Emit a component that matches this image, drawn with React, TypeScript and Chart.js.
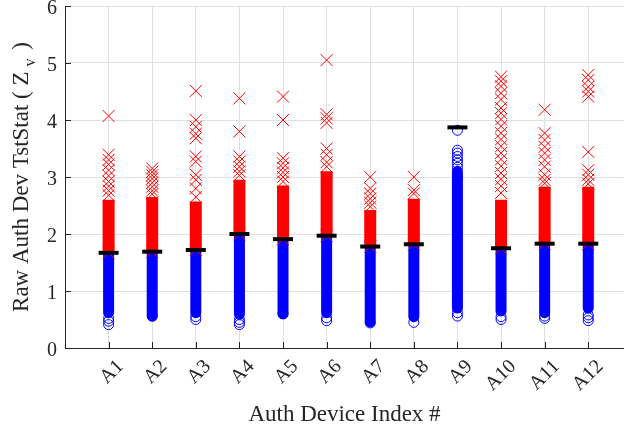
import React, { useEffect, useRef } from 'react';
import { Chart, registerables } from 'chart.js';

Chart.register(...registerables);

// ---- data ----
const categories = ['A1', 'A2', 'A3', 'A4', 'A5', 'A6', 'A7', 'A8', 'A9', 'A10', 'A11', 'A12'];

// threshold (black bar) per device
const thresholds = [1.67, 1.69, 1.72, 2.0, 1.91, 1.97, 1.78, 1.82, 3.87, 1.75, 1.83, 1.83];

// dense blue column (circles packed solid): low and high values
const blueDenseLow = [0.62, 0.56, 0.62, 0.59, 0.6, 0.62, 0.46, 0.55, 0.7, 0.65, 0.62, 0.7];
const blueDenseHigh = [1.67, 1.69, 1.72, 2.0, 1.91, 1.97, 1.78, 1.82, 3.1, 1.75, 1.83, 1.83];

// individually visible blue circles
const blueRings: number[][] = [
  [0.52, 0.47, 0.41],
  [0.56],
  [0.55, 0.5],
  [0.5, 0.45, 0.41],
  [0.6],
  [0.53, 0.48],
  [0.44],
  [0.45],
  [0.62, 0.56, 3.17, 3.24, 3.3, 3.36, 3.42, 3.47, 3.82],
  [0.55, 0.5],
  [0.56, 0.52],
  [0.58, 0.53, 0.48],
];

// dense red column (crosses packed solid): top value (null = none)
const redDenseTop: (number | null)[] = [2.6, 2.65, 2.57, 2.95, 2.85, 3.1, 2.42, 2.62, null, 2.6, 2.83, 2.83];

// individually visible red crosses
const redCrosses: number[][] = [
  [4.07, 3.39, 3.3, 3.22, 3.12, 3.02, 2.92, 2.84, 2.76, 2.68],
  [3.15, 3.09, 3.03, 2.97, 2.9, 2.83, 2.76, 2.7],
  [4.51, 4.0, 3.88, 3.76, 3.68, 3.36, 3.27, 3.04, 2.95, 2.8, 2.65],
  [4.38, 3.8, 3.36, 3.27, 3.18, 3.1, 3.03],
  [4.41, 4.0, 3.33, 3.24, 3.16, 3.08, 3.0, 2.92],
  [5.05, 4.1, 4.03, 3.95, 3.5, 3.39, 3.26, 3.18],
  [3.0, 2.8, 2.71, 2.62, 2.55, 2.48],
  [3.0, 2.77, 2.71],
  [],
  [4.76, 4.68, 4.59, 4.47, 4.36, 4.21, 4.12, 4.01, 3.89, 3.77, 3.66, 3.54, 3.42, 3.31, 3.19, 3.07, 2.96, 2.84, 2.72],
  [4.18, 3.77, 3.65, 3.53, 3.42, 3.3, 3.18, 3.04, 2.95, 2.89],
  [4.79, 4.7, 4.58, 4.5, 4.41, 3.44, 3.12, 3.04, 2.95, 2.88],
];

const yTicks = [0, 1, 2, 3, 4, 5, 6];

const FONT = "'Liberation Serif', 'Times New Roman', serif";
const TEXT = '#262626';
const GRID = '#e0e0e0';
const BLUE = '#0000ff';
const RED = '#ff0000';

// plot-area frame inside the canvas
const AREA_TOP = 6;
const AREA_LEFT = 65;
const AXIS_HEIGHT = 86;

type P = { x: number; y: number | null };

function columnSegments(lows: (number | null)[], highs: (number | null)[]): P[] {
  const out: P[] = [];
  lows.forEach((lo, i) => {
    const hi = highs[i];
    if (lo == null || hi == null) return;
    out.push({ x: i + 1, y: lo }, { x: i + 1, y: hi }, { x: i + 1, y: null });
  });
  return out;
}

function points(lists: number[][]): P[] {
  const out: P[] = [];
  lists.forEach((vals, i) => vals.forEach((v) => out.push({ x: i + 1, y: v })));
  return out;
}

const framePlugin = {
  id: 'frame',
  afterLayout(chart: any) {
    const ca = chart.chartArea;
    const xs = chart.scales.x;
    const ys = chart.scales.y;
    ca.top = AREA_TOP;
    ca.right = chart.width;
    ca.width = ca.right - ca.left;
    ca.height = ca.bottom - ca.top;
    ys.top = ca.top;
    ys.height = ys.bottom - ys.top;
    ys.configure();
    xs.right = ca.right;
    xs.width = xs.right - xs.left;
    xs.configure();
  },
};

const decorPlugin = {
  id: 'decor',
  afterDraw(chart: any) {
    const { ctx, chartArea, scales } = chart;
    const { left, top, bottom } = chartArea;
    const xs = scales.x;
    const ys = scales.y;
    ctx.save();
    ctx.strokeStyle = TEXT;
    ctx.lineWidth = 1;
    ctx.beginPath();
    ys.ticks.forEach((t: any) => {
      const py = Math.round(ys.getPixelForValue(t.value)) + 0.5;
      ctx.moveTo(left, py);
      ctx.lineTo(left + 6, py);
    });
    xs.ticks.forEach((t: any) => {
      const px = Math.round(xs.getPixelForValue(t.value)) + 0.5;
      ctx.moveTo(px, bottom);
      ctx.lineTo(px, bottom - 6);
    });
    ctx.stroke();

    // y axis title with subscript
    const main = 'Raw Auth Dev TstStat ( Z';
    const sub = 'v';
    const end = ' )';
    const big = `23px ${FONT}`;
    const small = `16px ${FONT}`;
    ctx.fillStyle = TEXT;
    ctx.font = big;
    const w1 = ctx.measureText(main).width;
    const w3 = ctx.measureText(end).width;
    ctx.font = small;
    const w2 = ctx.measureText(sub).width;
    const gap = 5;
    const gap2 = 3;
    const total = w1 + gap + w2 + gap2 + w3;
    const cy = (top + bottom) / 2;
    ctx.translate(28, cy);
    ctx.rotate(-Math.PI / 2);
    ctx.textBaseline = 'alphabetic';
    ctx.textAlign = 'left';
    let sx = -total / 2;
    ctx.font = big;
    ctx.fillText(main, sx, 0);
    sx += w1 + gap;
    ctx.font = small;
    ctx.fillText(sub, sx, 7);
    sx += w2 + gap2;
    ctx.font = big;
    ctx.fillText(end, sx, 0);
    ctx.restore();
  },
};

export default function App() {
  const ref = useRef<HTMLCanvasElement | null>(null);

  useEffect(() => {
    if (!ref.current) return;
    const thresholdPts = thresholds.map((v, i) => ({ x: i + 1, y: v }));
    const redLowPts = redDenseTop
      .map((t, i) => (t == null ? null : { x: i + 1, y: thresholds[i] }))
      .filter((p) => p !== null) as P[];

    const chart = new Chart(ref.current, {
      type: 'scatter',
      data: {
        datasets: [
          {
            label: 'blue dense',
            data: columnSegments(blueDenseLow, blueDenseHigh) as any,
            showLine: true,
            borderColor: BLUE,
            borderWidth: 11,
            borderCapStyle: 'round',
            pointRadius: 0,
            spanGaps: false,
            order: 6,
          } as any,
          {
            label: 'blue rings',
            data: points(blueRings) as any,
            pointStyle: 'circle',
            pointRadius: 5,
            borderColor: BLUE,
            backgroundColor: 'rgba(0,0,0,0)',
            borderWidth: 1,
            order: 5,
          },
          {
            label: 'red dense',
            data: columnSegments(thresholds, redDenseTop) as any,
            showLine: true,
            borderColor: RED,
            borderWidth: 12,
            borderCapStyle: 'butt',
            pointRadius: 0,
            spanGaps: false,
            order: 4,
          } as any,
          {
            label: 'red crosses',
            data: [...points(redCrosses), ...redLowPts] as any,
            pointStyle: 'crossRot',
            pointRadius: 8.5,
            borderColor: RED,
            backgroundColor: RED,
            borderWidth: 1,
            order: 3,
          },
          {
            label: 'threshold',
            data: thresholdPts as any,
            pointStyle: 'line',
            pointRadius: 10,
            borderColor: '#000000',
            borderWidth: 4,
            order: 1,
          },
        ],
      },
      options: {
        animation: false,
        responsive: false,
        events: [],
        layout: { padding: 0 },
        plugins: { legend: { display: false }, tooltip: { enabled: false } },
        scales: {
          x: {
            type: 'linear',
            min: 0,
            max: 12.82,
            afterBuildTicks: (s: any) => {
              s.ticks = categories.map((_, i) => ({ value: i + 1 }));
            },
            afterFit: (s: any) => {
              s.height = AXIS_HEIGHT;
            },
            ticks: {
              autoSkip: false,
              maxRotation: 45,
              minRotation: 45,
              labelOffset: 12,
              padding: 7,
              color: TEXT,
              font: { family: FONT, size: 20 },
              callback: (v: any) => categories[Math.round(Number(v)) - 1] ?? '',
            },
            grid: { color: GRID, drawTicks: false },
            border: { color: TEXT, width: 1 },
            title: {
              display: true,
              text: 'Auth Device Index #',
              color: TEXT,
              font: { family: FONT, size: 23 },
              padding: { top: 0, bottom: 5 },
            },
          },
          y: {
            type: 'linear',
            min: 0,
            max: 6,
            afterBuildTicks: (s: any) => {
              s.ticks = yTicks.map((v) => ({ value: v }));
            },
            afterFit: (s: any) => {
              s.width = AREA_LEFT;
            },
            ticks: {
              padding: 8,
              labelOffset: 3,
              color: TEXT,
              font: { family: FONT, size: 20 },
              callback: (v: any) => String(v),
            },
            grid: { color: GRID, drawTicks: false },
            border: { color: TEXT, width: 1 },
          },
        },
      },
      plugins: [framePlugin, decorPlugin],
    });
    return () => chart.destroy();
  }, []);

  return (
    <div style={{ position: 'absolute', left: 0, top: 0, width: 624, height: 434, background: '#fff' }}>
      <canvas ref={ref} width={624} height={434} style={{ display: 'block' }} />
    </div>
  );
}
